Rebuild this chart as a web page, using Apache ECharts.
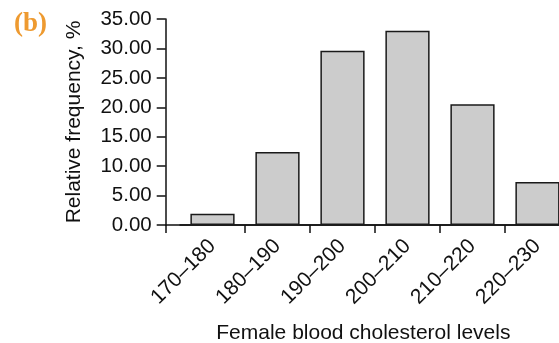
<!DOCTYPE html>
<html>
<head>
<meta charset="utf-8">
<script src="https://cdn.jsdelivr.net/npm/echarts@6/dist/echarts.min.js"></script>
<style>html,body{margin:0;padding:0;background:#fff;}#c{width:559px;height:343px;}</style>
</head>
<body>
<div id="c"></div>
<script>
var categories = ['170\u2013180', '180\u2013190', '190\u2013200', '200\u2013210', '210\u2013220', '220\u2013230'];
var values = [1.9, 12.4, 29.6, 33.0, 20.5, 7.3];
var yTicks = [0, 35, 5];

var chart = echarts.init(document.getElementById('c'), null, {renderer: 'canvas'});
var font = 'Liberation Sans, Arial, Helvetica, sans-serif';
var axisLine = {show: true, onZero: false, lineStyle: {color: '#111', width: 1.5}};
chart.setOption({
  animation: false,
  backgroundColor: '#fff',
  title: {
    text: '(b)', left: 9, top: 6,
    textStyle: {color: '#EE9A30', fontFamily: 'Liberation Serif, serif', fontWeight: 'bold', fontSize: 27}
  },
  grid: [
    {left: 165.7, right: -2, top: 19, bottom: 118, containLabel: false, outerBoundsMode: 'none'},
    {left: 180, right: -11, top: 19, bottom: 118, containLabel: false, outerBoundsMode: 'none'}
  ],
  xAxis: [
    {
      type: 'value', gridIndex: 0, min: 0, max: 1, interval: 1,
      axisLine: axisLine,
      axisTick: {show: true, length: 8, lineStyle: {color: '#111', width: 1.5}},
      axisLabel: {show: false}, splitLine: {show: false},
      name: 'Female blood cholesterol levels', nameLocation: 'middle', nameGap: 98,
      nameTextStyle: {fontFamily: font, fontSize: 21, color: '#111'}
    },
    {
      type: 'category', gridIndex: 1, data: categories,
      axisLine: axisLine,
      axisTick: {show: true, length: 8, interval: function (i) { return i > 0; }, lineStyle: {color: '#111', width: 1.5}},
      axisLabel: {rotate: 45, margin: 18, fontFamily: font, fontSize: 21, color: '#111'}
    }
  ],
  yAxis: [
    {
      type: 'value', gridIndex: 0, min: yTicks[0], max: yTicks[1], interval: yTicks[2],
      axisLine: axisLine,
      axisTick: {show: true, length: 9, lineStyle: {color: '#111', width: 1.5}},
      axisLabel: {margin: 14, fontFamily: font, fontSize: 20.5, color: '#111', formatter: function (v) { return v.toFixed(2); }},
      splitLine: {show: false},
      name: 'Relative frequency, %', nameLocation: 'middle', nameRotate: 90, nameGap: 81,
      nameTextStyle: {fontFamily: font, fontSize: 21, color: '#111'}
    },
    {
      type: 'value', gridIndex: 1, min: yTicks[0], max: yTicks[1], interval: yTicks[2], show: false
    }
  ],
  series: [{
    type: 'bar', xAxisIndex: 1, yAxisIndex: 1, data: values,
    barCategoryGap: '32%',
    itemStyle: {color: '#cccccc', borderColor: '#1a1a1a', borderWidth: 1.5}
  }]
});
</script>
</body>
</html>
